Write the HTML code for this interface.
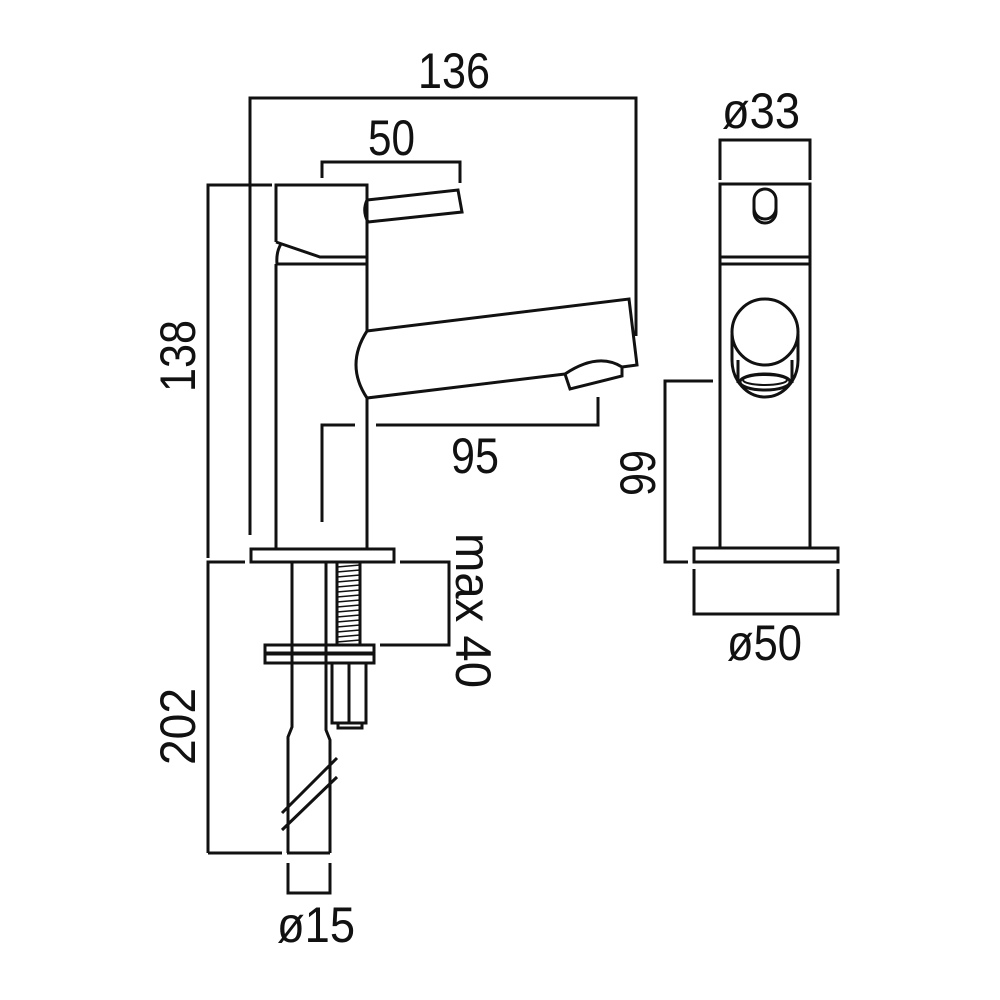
<!DOCTYPE html>
<html><head><meta charset="utf-8"><style>
html,body{margin:0;padding:0;background:#fff;}
svg{display:block;}
text{font-family:"Liberation Sans",sans-serif;font-size:50px;fill:#111;}
</style></head><body>
<svg width="1000" height="1000" viewBox="0 0 1000 1000" xmlns="http://www.w3.org/2000/svg">
<g fill="none" stroke="#111" stroke-width="3" stroke-linejoin="miter">
<!-- 136 dim -->
<polyline points="250,535 250,98 636,98 636,336"/>
<!-- 50 dim -->
<polyline points="322,178 322,162 460,162 460,183"/>
<!-- 138 dim -->
<polyline points="272,185 208,185 208,558"/>
<!-- handle body -->
<polyline points="276,242 276,185 367,185 367,257 320,257 276,242"/>
<path d="M281,244 Q276,252 277,264"/>
<path d="M367,257 L367,264 M276,264 L367,264"/>
<line x1="276" y1="264" x2="276" y2="549"/>
<line x1="367" y1="264" x2="367" y2="332"/>
<line x1="367" y1="398" x2="367" y2="549"/>
<!-- lever -->
<path d="M367,200 L458,190 L462,212 L368,222 Q362,211 367,200 Z"/>
<!-- spout -->
<path d="M367,331 L629,299 L637,365 L622,367"/>
<path d="M565,374 L367,398 Q345,365 367,331"/>
<path d="M565,374 L570,389 L622,376 L622,367 Q598,352 565,374"/>
<!-- 95 dim -->
<polyline points="322,522 322,425 355,425"/>
<polyline points="376,425 598,425 598,397"/>
<!-- base plate -->
<rect x="251" y="549" width="143" height="13"/>
<!-- pipe -->
<polyline points="292,562 292,727 288,737 288,853"/>
<polyline points="326,562 326,730 330,740 330,853"/>
<line x1="208" y1="853" x2="282" y2="853"/>
<line x1="287" y1="853" x2="330" y2="853"/>
<line x1="282" y1="813" x2="337" y2="758"/>
<line x1="282" y1="830" x2="337" y2="777"/>
<!-- threaded rod -->
<rect x="337" y="562" width="23" height="83"/>
<!-- washers -->
<rect x="265" y="645" width="109" height="8"/>
<rect x="265" y="654" width="109" height="9"/>
<!-- nut -->
<rect x="332" y="663" width="34" height="60"/>
<line x1="349" y1="663" x2="349" y2="723"/>
<rect x="338" y="723" width="24" height="5"/>
<!-- max 40 dim -->
<polyline points="400,562 449,562 449,645 380,645"/>
<!-- 202 dim -->
<polyline points="245,562 208,562 208,853"/>
<!-- ø15 -->
<polyline points="288,863 288,893 330,893 330,863"/>
<!-- front view -->
<polyline points="720,180 720,140 810,140 810,180"/>
<rect x="720" y="184" width="90" height="73"/>
<polyline points="720,257 720,548"/>
<polyline points="810,257 810,548"/>
<line x1="720" y1="264" x2="810" y2="264"/>
<path d="M754,200 A11,11 0 0 1 776,200 L776,212 A11,11 0 0 1 754,212 Z"/>
<path d="M765,189 m0,0"/>
<path d="M754,208 A11,11 0 0 0 776,208"/>
<circle cx="765" cy="332" r="33"/>
<path d="M732,334 L732,360 A33,37 0 0 0 798,360 L798,334"/>
<path d="M738,360 L738,383 M792,360 L792,383"/>
<ellipse cx="765" cy="382" rx="25" ry="8"/>
<ellipse cx="765" cy="380" rx="22" ry="5" stroke-width="2"/>
<!-- 99 dim -->
<polyline points="713,381 665,381 665,562 688,562"/>
<rect x="694" y="548" width="144" height="14"/>
<polyline points="694,569 694,614 838,614 838,569"/>
</g>
<g stroke="#111" stroke-width="1.5">
<line x1="337" y1="567" x2="360" y2="565"/><line x1="337" y1="572" x2="360" y2="570"/>
<line x1="337" y1="577" x2="360" y2="575"/><line x1="337" y1="582" x2="360" y2="580"/>
<line x1="337" y1="587" x2="360" y2="585"/><line x1="337" y1="592" x2="360" y2="590"/>
<line x1="337" y1="597" x2="360" y2="595"/><line x1="337" y1="602" x2="360" y2="600"/>
<line x1="337" y1="607" x2="360" y2="605"/><line x1="337" y1="612" x2="360" y2="610"/>
<line x1="337" y1="617" x2="360" y2="615"/><line x1="337" y1="622" x2="360" y2="620"/>
<line x1="337" y1="627" x2="360" y2="625"/><line x1="337" y1="632" x2="360" y2="630"/>
<line x1="337" y1="637" x2="360" y2="635"/><line x1="337" y1="642" x2="360" y2="640"/>
</g>
<text x="418" y="88" textLength="72" lengthAdjust="spacingAndGlyphs">136</text>
<text x="368" y="155" textLength="47" lengthAdjust="spacingAndGlyphs">50</text>
<text x="451" y="473" textLength="48" lengthAdjust="spacingAndGlyphs">95</text>
<text x="722" y="128" textLength="78" lengthAdjust="spacingAndGlyphs">ø33</text>
<text x="727" y="660" textLength="75" lengthAdjust="spacingAndGlyphs">ø50</text>
<text x="277" y="942" textLength="78" lengthAdjust="spacingAndGlyphs">ø15</text>
<text transform="translate(195,392) rotate(-90)" textLength="72" lengthAdjust="spacingAndGlyphs">138</text>
<text transform="translate(195,765) rotate(-90)" textLength="77" lengthAdjust="spacingAndGlyphs">202</text>
<text transform="translate(655,496) rotate(-90)" textLength="46" lengthAdjust="spacingAndGlyphs">99</text>
<text transform="translate(456,533) rotate(90)" textLength="155" lengthAdjust="spacingAndGlyphs">max 40</text>
</svg>
</body></html>
